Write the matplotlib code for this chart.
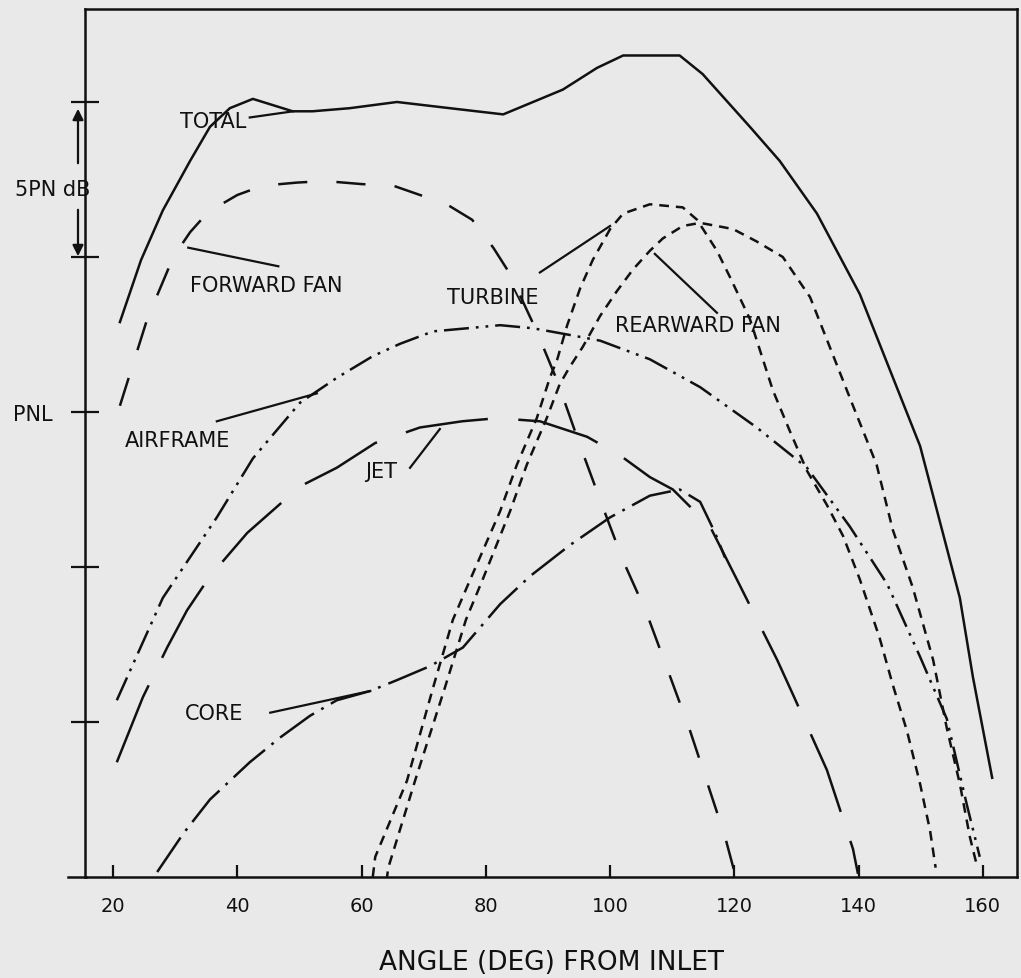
import matplotlib
matplotlib.use("Agg")
import matplotlib.pyplot as plt

plt.rcParams['font.family'] = ['DejaVu Sans']
plt.rcParams['lines.scale_dashes'] = False

# angle (deg from inlet) and level (dB above baseline)
total_x = [21.1, 24.5, 28.0, 32.4, 35.6, 38.8, 42.5, 45.7, 48.9, 52.1, 58.1, 65.7, 74.2, 82.8,
           92.4, 97.9, 102.1, 106.4, 111.2, 114.9, 122.5, 127.3, 133.3, 140.2, 149.9, 156.3, 158.4, 161.5]
total_y = [17.9, 19.9, 21.5, 23.1, 24.2, 24.8, 25.1, 24.9, 24.7, 24.7, 24.8, 25.0, 24.8, 24.6,
           25.4, 26.1, 26.5, 26.5, 26.5, 25.9, 24.2, 23.1, 21.4, 18.8, 13.9, 9.0, 6.45, 3.2]

fwdfan_x = [21.1, 25.5, 29.7, 32.4, 35.3, 40.0, 44.1, 49.6, 54.1, 60.1, 65.1, 69.4, 73.7, 77.8,
            81.2, 83.9, 88.2, 91.5, 95.2, 98.7, 102.1, 105.9, 109.6, 112.9, 116.2, 118.5, 120.1]
fwdfan_y = [15.2, 18.0, 20.0, 20.8, 21.45, 22.0, 22.3, 22.4, 22.45, 22.35, 22.3, 22.0, 21.7, 21.2,
            20.3, 19.45, 17.6, 16.0, 13.9, 12.0, 10.2, 8.5, 6.5, 4.7, 2.7, 1.3, 0.1]

turbine_x = [61.8, 62.2, 67.3, 71.5, 74.7, 77.5, 82.3, 85.0, 88.2, 90.3, 91.5, 93.1, 95.2, 97.2,
             100.0, 102.1, 106.4, 111.7, 114.0, 117.2, 119.3, 122.5, 126.2, 128.9, 131.7, 134.9,
             137.5, 140.2, 143.4, 145.5, 147.8, 149.9, 151.5, 152.4]
turbine_y = [0.0, 0.65, 3.1, 6.1, 8.3, 9.6, 11.8, 13.3, 14.8, 16.1, 16.7, 17.8, 19.0, 19.9,
             20.9, 21.4, 21.7, 21.6, 21.2, 20.2, 19.35, 18.0, 15.7, 14.4, 13.1, 12.0,
             11.0, 9.6, 7.7, 6.2, 4.7, 3.0, 1.5, 0.3]

rearfan_x = [64.1, 64.3, 68.6, 73.4, 76.8, 79.5, 83.9, 86.6, 89.8, 91.9, 93.5, 95.6, 98.4, 101.1,
             103.7, 106.4, 108.5, 111.7, 114.5, 117.2, 119.8, 123.6, 127.8, 132.2, 139.1, 142.9,
             145.5, 148.7, 152.0, 154.2, 156.3, 157.9, 159.0]
rearfan_y = [0.0, 0.3, 3.1, 6.1, 8.3, 9.6, 11.8, 13.3, 14.8, 15.9, 16.45, 17.1, 18.1, 18.9,
             19.6, 20.2, 20.6, 21.0, 21.1, 21.0, 20.9, 20.5, 20.0, 18.7, 15.2, 13.3,
             11.2, 9.35, 7.0, 4.8, 3.0, 1.3, 0.4]

airframe_x = [20.6, 28.0, 36.7, 42.5, 50.1, 56.0, 61.8, 66.2, 71.5, 77.0, 82.3, 87.6, 93.1, 98.4,
              106.4, 114.5, 123.6, 131.7, 138.6, 144.6, 149.9, 154.2, 157.4, 159.5]
airframe_y = [5.7, 9.0, 11.6, 13.5, 15.3, 16.1, 16.8, 17.2, 17.6, 17.7, 17.8, 17.7, 17.5, 17.3,
              16.7, 15.8, 14.5, 13.2, 11.3, 9.45, 7.1, 5.1, 2.35, 0.65]

jet_x = [20.6, 24.8, 28.7, 31.9, 35.6, 41.6, 50.1, 56.0, 62.2, 69.4, 76.2, 81.8, 88.7, 96.3,
         101.6, 106.4, 110.1, 116.1, 120.4, 126.9, 129.4, 134.9, 139.1, 139.9]
jet_y = [3.7, 5.8, 7.4, 8.6, 9.7, 11.1, 12.6, 13.2, 14.0, 14.5, 14.7, 14.8, 14.7, 14.2,
         13.6, 12.9, 12.5, 11.3, 9.6, 7.0, 5.9, 3.45, 0.9, 0.1]

core_x = [27.1, 31.3, 35.6, 42.0, 46.9, 51.7, 56.0, 61.4, 65.7, 71.0, 76.3, 82.3, 87.1, 93.5,
          100.0, 106.4, 111.2, 114.5, 116.9, 118.5]
core_y = [0.16, 1.4, 2.5, 3.7, 4.5, 5.2, 5.7, 6.0, 6.35, 6.8, 7.4, 8.8, 9.7, 10.7,
          11.6, 12.3, 12.5, 12.1, 11.1, 10.3]

xticks = [20, 40, 60, 80, 100, 120, 140, 160]
yticks = [5, 10, 15, 20, 25]

bg = '#e9e9e9'
ink = '#111111'
lw = 1.8

fig = plt.figure(figsize=(10.21, 9.79), dpi=100, facecolor=bg)
ax = fig.add_axes([0.0833, 0.1032, 0.9128, 0.8866], facecolor=bg)

ax.plot(total_x, total_y, color=ink, lw=lw, ls='-')
ax.plot(fwdfan_x, fwdfan_y, color=ink, lw=lw, ls=(0, (21, 21)))
ax.plot(turbine_x, turbine_y, color=ink, lw=lw, ls=(0, (7, 5)))
ax.plot(rearfan_x, rearfan_y, color=ink, lw=lw, ls=(3, (7, 5)))
ax.plot(airframe_x, airframe_y, color=ink, lw=lw, ls=(0, (18, 5, 2, 5, 2, 5)))
ax.plot(jet_x, jet_y, color=ink, lw=lw, ls=(0, (60, 22)))
ax.plot(core_x, core_y, color=ink, lw=lw, ls=(0, (30, 6, 2, 6)))

# labels with leader lines
fs = 15
labels = [
    ("TOTAL", 30.8, 24.4, (42.0, 49.0), (24.5, 24.7)),
    ("FORWARD FAN", 32.4, 19.1, (32.1, 46.6), (20.3, 19.7)),
    ("TURBINE", 73.7, 18.7, (88.7, 100.0), (19.5, 21.0)),
    ("REARWARD FAN", 100.8, 17.8, (107.2, 117.2), (20.1, 18.2)),
    ("AIRFRAME", 21.9, 14.1, (36.7, 52.8), (14.7, 15.6)),
    ("JET", 60.6, 13.1, (67.8, 72.6), (13.2, 14.45)),
    ("CORE", 31.6, 5.3, (45.3, 61.4), (5.3, 6.0)),
]
for txt, tx, ty, lx, ly in labels:
    ax.text(tx, ty, txt, fontsize=fs, color=ink, ha='left', va='center')
    ax.plot(lx, ly, color=ink, lw=1.6)

ax.set_xlim(15.49, 165.5)
ax.set_ylim(0, 28.0)
ax.set_xticks(xticks)
ax.set_xticklabels([str(v) for v in xticks], fontsize=14)
ax.set_yticks(yticks)
ax.set_yticklabels([])
ax.tick_params(axis='x', direction='in', length=9, width=1.6, pad=14, colors=ink)
ax.tick_params(axis='y', direction='inout', length=20, width=1.6, colors=ink)
for s in ax.spines.values():
    s.set_linewidth(1.8)
    s.set_color(ink)
ax.set_xlabel("ANGLE (DEG) FROM INLET", fontsize=19, color=ink, labelpad=24)

# x axis line runs a little past the y axis
fig.add_artist(plt.Line2D([68 / 1021, 86 / 1021], [0.1032, 0.1032], color=ink, lw=1.8))

fig.text(13 / 1021, 1 - 415 / 979, "PNL", fontsize=fs, color=ink, ha='left', va='center')
fig.text(15 / 1021, 1 - 190 / 979, "5PN dB", fontsize=fs, color=ink, ha='left', va='center')
ax_x = 78 / 1021
fig.add_artist(matplotlib.patches.FancyArrowPatch((ax_x, 1 - 167 / 979), (ax_x, 1 - 107 / 979),
               transform=fig.transFigure, arrowstyle='-|>', mutation_scale=16, color=ink, lw=1.6))
fig.add_artist(matplotlib.patches.FancyArrowPatch((ax_x, 1 - 208 / 979), (ax_x, 1 - 260 / 979),
               transform=fig.transFigure, arrowstyle='-|>', mutation_scale=16, color=ink, lw=1.6))

fig.savefig("out.png", dpi=100, facecolor=bg)
